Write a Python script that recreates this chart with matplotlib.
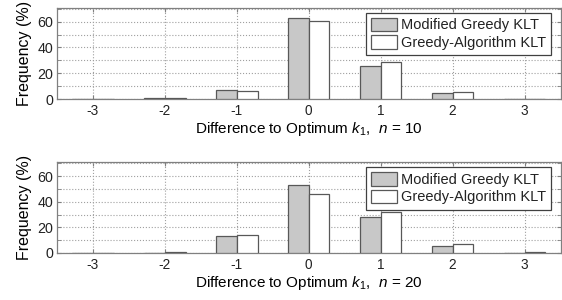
import numpy as np
import matplotlib
matplotlib.use('Agg')
from matplotlib import pyplot as plt

plt.rcParams['font.family'] = ['Liberation Sans', 'DejaVu Sans']
plt.rcParams['font.size'] = 10.5
plt.rcParams['mathtext.fontset'] = 'custom'
plt.rcParams['mathtext.rm'] = 'Liberation Sans'
plt.rcParams['mathtext.it'] = 'Liberation Sans:italic'
plt.rcParams['text.color'] = '#222222'

diffs = [-3, -2, -1, 0, 1, 2, 3]
series_names = ['Modified Greedy KLT', 'Greedy-Algorithm KLT']

# n = 10
mod_n10 = [0.1, 0.4, 7.2, 62.5, 25.8, 4.4, 0.3]
greedy_n10 = [0.0, 0.6, 6.3, 60.7, 28.8, 5.1, 0.3]
# n = 20
mod_n20 = [0.3, 0.2, 12.9, 53.1, 28.0, 5.7, 0.3]
greedy_n20 = [0.0, 0.5, 13.7, 45.9, 31.7, 7.0, 0.5]

panels = [(mod_n10, greedy_n10, 10), (mod_n20, greedy_n20, 20)]

fig = plt.figure(figsize=(5.62, 3.0), dpi=100)
W, H = 562.0, 300.0
edge = '#585858'
axcol = '#808080'

# axes boxes in pixels: top, bottom
boxes = [(7.5, 99), (162, 253)]
left, right = 56.7, 560.5

x = np.array(diffs, dtype=float)
bw = 0.29

for (a, b, n), (top, bot) in zip(panels, boxes):
    ax = fig.add_axes([left / W, 1 - bot / H, (right - left) / W, (bot - top) / H])
    ax.bar(x - bw / 2, a, bw, color='#c8c8c8', edgecolor=edge, linewidth=0.9,
           label=series_names[0], zorder=3)
    ax.bar(x + bw / 2, b, bw, color='white', edgecolor=edge, linewidth=0.9,
           label=series_names[1], zorder=3)
    ax.set_xlim(-3.5, 3.5)
    ax.set_ylim(0, 71)
    ax.set_xticks(diffs)
    ax.set_xticklabels([str(d) for d in diffs])
    ax.set_yticks([0, 20, 40, 60])
    ax.set_yticks([10, 30, 50, 70], minor=True)
    ax.grid(True, which='both', linestyle=':', color='#a0a0a0', linewidth=0.8, zorder=0)
    ax.tick_params(which='both', direction='in', length=3, top=True, right=True,
                   color=axcol, labelcolor='#222222')
    ax.tick_params(axis='x', pad=3.5, labelsize=9.8)
    ax.tick_params(axis='y', pad=2.5, labelsize=10.3)
    for s in ax.spines.values():
        s.set_color(axcol)
        s.set_linewidth(0.9)
    ax.set_ylabel('Frequency (%)', fontsize=11.5)
    ax.yaxis.set_label_coords(-0.05, 0.5)
    ax.set_xlabel('Difference to Optimum $k_1$,  $n$ = %d' % n, fontsize=11)
    ax.xaxis.label.set_va('baseline')
    # baseline well below the tick labels
    ax.xaxis.set_label_coords(0.5, -34.0 / (bot - top))
    leg = ax.legend(loc='upper left', bbox_to_anchor=(366 / W, 1 - (top + 5) / H),
                    bbox_transform=fig.transFigure, fancybox=False, framealpha=1,
                    edgecolor='#404040', borderaxespad=0, handlelength=1.8,
                    handleheight=1.05, handletextpad=0.25, borderpad=0.35,
                    labelspacing=0.2, fontsize=10.5)
    leg.get_frame().set_linewidth(0.9)

fig.savefig('out.png', dpi=100)
